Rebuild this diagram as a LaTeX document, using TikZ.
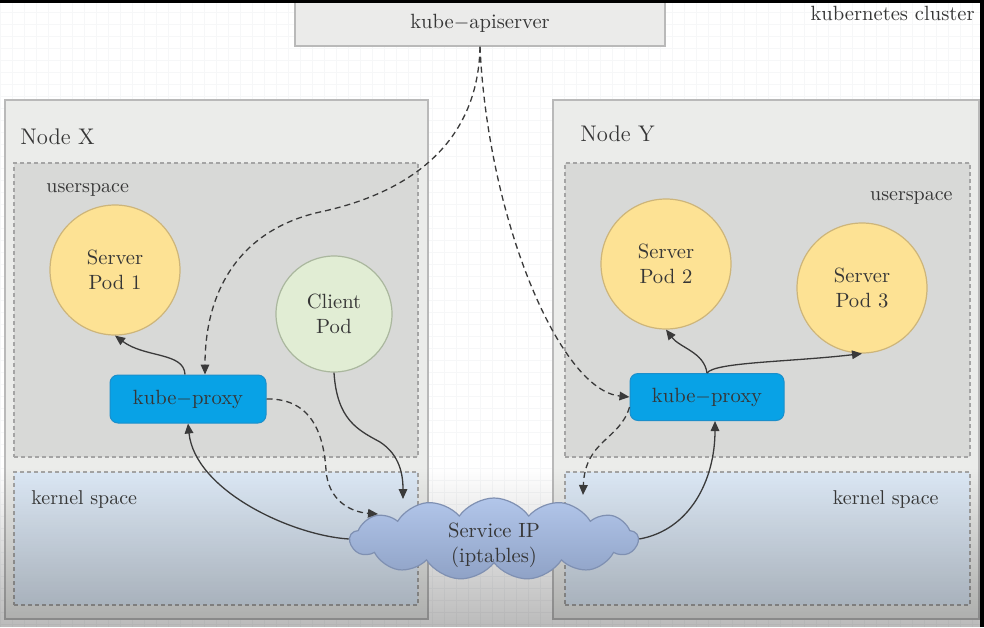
\documentclass[tikz,border=0pt]{standalone}
\usetikzlibrary{shapes.symbols,arrows.meta,calc,fadings}
\definecolor{textc}{HTML}{363636}
\definecolor{gridc}{HTML}{F6F7F8}
\definecolor{apifill}{HTML}{EBEBEA}
\definecolor{boxborder}{HTML}{B9B9B9}
\definecolor{nodefill}{HTML}{EBECEA}
\definecolor{userfill}{HTML}{D8D9D7}
\definecolor{dashc}{HTML}{A4A4A4}
\definecolor{kernelfill}{HTML}{DCE8F5}
\definecolor{podfill}{HTML}{FDE294}
\definecolor{podborder}{HTML}{CDB57A}
\definecolor{clientfill}{HTML}{E1EDD4}
\definecolor{clientborder}{HTML}{AAB79E}
\definecolor{proxyfill}{HTML}{08A2E6}
\definecolor{proxyborder}{HTML}{1B8FCB}
\definecolor{cloudtop}{HTML}{B2C6EA}
\definecolor{cloudbot}{HTML}{8FA2C6}
\definecolor{cloudborder}{HTML}{7F90B2}
\definecolor{linec}{HTML}{3A3A3A}
\begin{document}
\begin{tikzpicture}[x=0.5pt,y=-0.5pt,
  txt/.style={text=textc, font=\fontsize{10.3}{12.5}\selectfont},
  lbl/.style={text=textc, font=\fontsize{10}{12}\selectfont, inner sep=0pt},
  bigtxt/.style={text=textc, font=\fontsize{11.3}{13}\selectfont, inner sep=0pt},
  nodebox/.style={draw=boxborder, fill=nodefill, line width=0.75pt, inner sep=0pt},
  userbox/.style={draw=dashc, fill=userfill, line width=0.6pt, dash pattern=on 2pt off 1.5pt, inner sep=0pt},
  kernelbox/.style={draw=dashc, fill=kernelfill, line width=0.6pt, dash pattern=on 2pt off 1.5pt, inner sep=0pt},
  pod/.style={circle, draw=podborder, fill=podfill, line width=0.6pt, minimum size=65pt, inner sep=0pt, align=center, txt},
  clientpod/.style={circle, draw=clientborder, fill=clientfill, line width=0.6pt, minimum size=58pt, inner sep=0pt, align=center, txt},
  proxy/.style={draw=proxyborder, fill=proxyfill, rounded corners=4pt, line width=0.5pt, minimum width=78pt, minimum height=24pt, inner sep=0pt, txt},
  arr/.style={-{Triangle[length=5pt,width=4.3pt]}, line width=0.65pt, draw=linec},
  dsh/.style={dash pattern=on 3pt off 2pt}]
\useasboundingbox (0,0) rectangle (984,627);
% background
\fill[white] (0,0) rectangle (984,627);
\draw[gridc, line width=0.25pt, step=6pt] (0,0) grid (984,627);
% api server
\node[draw=boxborder, fill=apifill, line width=0.75pt, minimum width=185pt, minimum height=23pt, inner sep=0pt, txt] (api) at (480,23) {kube$-$apiserver};
\node[txt, inner sep=0pt, anchor=east] (cluster) at (975,13) {kubernetes cluster};
% node boxes
\node[nodebox, minimum width=211.5pt, minimum height=259.5pt] (nodeX) at (216.5,359.5) {};
\node[nodebox, minimum width=213pt, minimum height=259.5pt] (nodeY) at (766,359.5) {};
\node[userbox, minimum width=202pt, minimum height=147pt] (userX) at (216,310) {};
\node[kernelbox, minimum width=202pt, minimum height=66.5pt] (kernX) at (216,538.5) {};
\node[userbox, minimum width=202.5pt, minimum height=147pt] (userY) at (767.5,310) {};
\node[kernelbox, minimum width=202.5pt, minimum height=66.5pt] (kernY) at (767.5,538.5) {};
% bottom darkening
\fill[black, fill opacity=0.27, path fading=north] (0,468) rectangle (984,627);
% black frame edges
\fill[black] (0,0) rectangle (984,3);
\fill[black] (980,0) rectangle (984,627);
% labels
\node[bigtxt, anchor=west] (lx) at (20,137) {Node X};
\node[bigtxt, anchor=west] (ly) at (580,134) {Node Y};
\node[lbl, anchor=west] (ux) at (46,190) {userspace};
\node[lbl, anchor=east] (uy) at (953,198) {userspace};
\node[lbl, anchor=west] (kx) at (31,499) {kernel space};
\node[lbl, anchor=east] (ky) at (939,499) {kernel space};
% pods
\node[pod] (pod1) at (115,270) {Server\\Pod 1};
\node[clientpod] (client) at (334,314) {Client\\Pod};
\node[pod] (pod2) at (666,264) {Server\\Pod 2};
\node[pod] (pod3) at (862,288) {Server\\Pod 3};
% proxies
\node[proxy] (kpX) at (188,399) {kube$-$proxy};
\node[proxy, minimum width=77pt, minimum height=23.5pt] (kpY) at (707,397) {kube$-$proxy};
% cloud
\node[cloud, cloud puffs=13, cloud puff arc=110, aspect=3.6, draw=cloudborder, top color=cloudtop, bottom color=cloudbot, line width=0.6pt, minimum width=144pt, minimum height=41pt, inner sep=0pt] (cloud) at (494,539) {};
\node[txt, align=center, inner sep=0pt] (cloudtxt) at (494,545) {Service IP\\(iptables)};
% connectors
\draw[arr,dsh] (api.south) .. controls (478,150) and (400,195) .. (320,212) .. controls (240,230) and (205,290) .. ($(kpX.north)+(17,0)$);
\draw[arr,dsh] (api.south) .. controls (488,220) and (560,390) .. (kpY.west);
\draw[arr] ($(kpX.north)+(-3,0)$) .. controls (184,352) and (145,358) .. (pod1.south);
\draw[arr,dsh] (kpX.east) .. controls (315,398) and (324,440) .. (326,470) .. controls (328,500) and (350,512) .. ($(cloud.center)+(-116,-25)$);
\draw[arr] (client.south) .. controls (337,420) and (358,430) .. (380,442) .. controls (400,455) and (403,475) .. ($(cloud.center)+(-91,-40)$);
\draw[arr] (cloud.west) .. controls (290,535) and (195,490) .. (kpX.south);
\draw[arr,dsh] ($(kpY.west)+(0,10)$) .. controls (620,440) and (585,440) .. ($(cloud.center)+(89,-44)$);
\draw[arr] (cloud.east) .. controls (690,530) and (715,480) .. ($(kpY.south)+(8,0)$);
\draw[arr] (kpY.north) .. controls (704,352) and (680,348) .. (pod2.south);
\draw[arr] (kpY.north) .. controls (715,362) and (790,362) .. (pod3.south);
\end{tikzpicture}
\end{document}
